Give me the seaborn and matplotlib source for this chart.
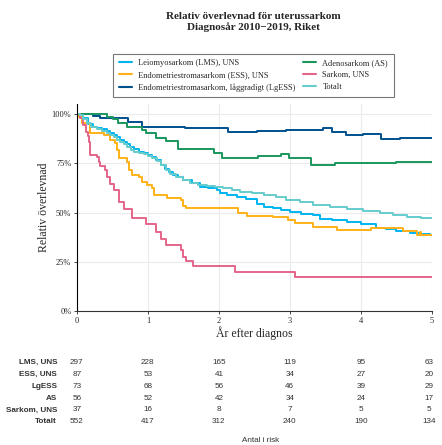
import numpy as np
import pandas as pd
import seaborn as sns
import matplotlib.pyplot as plt
from matplotlib.lines import Line2D

# survival curves (years after diagnosis, relative survival %)
lms_t = [0, 0.05, 0.09, 0.16, 0.22, 0.28, 0.35, 0.42, 0.47, 0.52, 0.57, 0.61, 0.66, 0.70, 0.75,
         0.80, 0.87, 0.94, 1.00, 1.06, 1.12, 1.18, 1.24, 1.30, 1.36, 1.43, 1.50, 1.62, 1.73,
         1.85, 1.97, 2.01, 2.12, 2.25, 2.38, 2.53, 2.64, 2.76, 2.88, 3.00, 3.16, 3.33, 3.42,
         3.60, 3.80, 4.00, 4.22, 4.35, 4.50, 4.69, 4.85, 4.97, 5.0]
lms_s = [100, 99.5, 97.8, 95.0, 93.6, 93.0, 92.2, 91.6, 90.4, 89.5, 88.2, 87.0, 85.6, 84.6, 83.0,
         82.0, 80.8, 80.2, 79.2, 78.4, 76.4, 74.2, 72.0, 70.6, 69.2, 67.8, 66.5, 64.8, 63.1,
         62.2, 61.4, 59.7, 58.8, 58.0, 56.8, 54.5, 53.0, 52.1, 51.2, 50.4, 49.5, 48.7, 46.6,
         46.0, 45.3, 44.0, 42.3, 41.5, 40.8, 39.8, 39.2, 38.6, 38.6]

ess_t = [0, 0.03, 0.07, 0.16, 0.19, 0.38, 0.47, 0.54, 0.56, 0.59, 0.71, 0.73, 0.78, 0.87, 0.92,
         0.99, 1.06, 1.08, 1.27, 1.46, 1.50, 1.53, 2.27, 2.39, 2.76, 2.98, 3.07, 3.33, 3.66,
         4.15, 4.60, 4.79, 4.83, 4.85, 5.0]
ess_s = [100, 98.6, 95.3, 95.3, 90.2, 89.3, 86.8, 85.1, 81.7, 77.5, 75.8, 71.5, 69.0, 68.1, 65.6,
         63.9, 62.2, 58.8, 57.6, 56.3, 53.2, 52.3, 49.6, 48.2, 47.6, 46.2, 44.9, 42.9, 41.2,
         42.0, 40.7, 38.7, 40.2, 38.7, 38.7]

lgess_t = [0, 0.23, 0.32, 0.72, 0.91, 1.52, 2.13, 2.53, 2.95, 3.46, 3.60, 3.79, 4.03, 4.29, 4.55, 5.0]
lgess_s = [100, 99.1, 97.8, 96.1, 93.4, 92.7, 91.0, 91.4, 91.9, 92.7, 90.7, 89.3, 89.6, 87.3, 87.8, 87.8]

as_t = [0, 0.42, 0.51, 0.58, 0.70, 0.91, 0.98, 1.12, 1.26, 1.42, 1.93, 2.04, 2.55, 2.88, 2.99,
        3.30, 3.63, 4.03, 4.50, 5.0]
as_s = [100, 98.6, 97.5, 95.3, 93.6, 91.9, 90.2, 87.7, 86.3, 82.0, 80.0, 77.5, 78.7, 79.7, 77.5,
        74.1, 74.9, 75.3, 75.8, 75.8]

sark_t = [0, 0.05, 0.09, 0.13, 0.15, 0.165, 0.18, 0.28, 0.31, 0.33, 0.40, 0.43, 0.47, 0.52, 0.59,
          0.67, 0.78, 0.97, 1.12, 1.18, 1.26, 1.46, 1.50, 1.54, 1.64, 2.23, 3.07, 5.0]
sark_s = [100, 97.8, 94.4, 91.0, 89.0, 86.0, 79.0, 78.0, 75.8, 73.6, 71.5, 68.0, 64.7, 61.4, 55.4,
          52.0, 47.0, 44.4, 40.2, 36.8, 33.4, 30.8, 27.5, 25.4, 22.7, 20.0, 17.4, 17.4]

tot_t = [0, 0.05, 0.09, 0.14, 0.20, 0.28, 0.35, 0.42, 0.47, 0.52, 0.57, 0.61, 0.66, 0.71, 0.76,
         0.80, 0.87, 0.94, 1.00, 1.06, 1.13, 1.19, 1.25, 1.31, 1.40, 1.50, 1.59, 1.71, 1.83,
         1.95, 2.06, 2.18, 2.30, 2.46, 2.63, 2.80, 2.95, 3.14, 3.33, 3.56, 3.80, 4.03, 4.27,
         4.45, 4.65, 4.85, 5.0]
tot_s = [100, 99.3, 97.5, 95.6, 93.6, 92.5, 91.5, 90.6, 89.4, 88.2, 87.0, 85.8, 84.6, 83.2, 81.8,
         80.9, 80.0, 79.5, 78.8, 77.8, 76.2, 74.0, 71.8, 69.6, 68.0, 66.5, 64.8, 64.1, 63.5,
         62.9, 62.3, 61.6, 60.6, 59.7, 58.8, 57.7, 56.6, 55.1, 53.7, 52.6, 51.6, 50.6, 49.6,
         48.7, 47.9, 47.4, 47.0]

groups = ['Leiomyosarkom (LMS), UNS', 'Endometriestromasarkom (ESS), UNS',
          'Endometriestromasarkom, låggradigt (LgESS)', 'Adenosarkom (AS)',
          'Sarkom, UNS', 'Totalt']
colors = ['#00b4f0', '#ffb117', '#00508c', '#19975d', '#e5658a', '#66cccc']
curves = [(lms_t, lms_s), (ess_t, ess_s), (lgess_t, lgess_s), (as_t, as_s),
          (sark_t, sark_s), (tot_t, tot_s)]

# numbers at risk
risk_labels = ['LMS, UNS', 'ESS, UNS', 'LgESS', 'AS', 'Sarkom, UNS', 'Totalt']
risk_years = [0, 1, 2, 3, 4, 5]
risk_lms = [297, 228, 165, 119, 95, 63]
risk_ess = [87, 53, 41, 34, 27, 20]
risk_lgess = [73, 68, 56, 46, 39, 29]
risk_as = [56, 52, 42, 34, 24, 17]
risk_sark = [37, 16, 8, 7, 5, 5]
risk_tot = [552, 417, 312, 240, 190, 134]
risk_rows = [risk_lms, risk_ess, risk_lgess, risk_as, risk_sark, risk_tot]

frames = []
for g, (t, s) in zip(groups, curves):
    frames.append(pd.DataFrame({'year': t, 'surv': np.array(s) / 100, 'group': g}))
df = pd.concat(frames, ignore_index=True)

sns.set_style('white')
serif = ['Liberation Serif', 'DejaVu Serif']
plt.rcParams['font.family'] = serif

fig = plt.figure(figsize=(4.42, 4.45), dpi=100)
ax = fig.add_axes([0.174, 0.301, 0.803, 0.465])

for g, c in zip(groups, colors):
    sub = df[df['group'] == g]
    sns.lineplot(data=sub, x='year', y='surv', ax=ax, color=c, lw=1.4,
                 drawstyle='steps-post', estimator=None, sort=False, legend=False)

ax.set_xlim(0, 5)
ax.set_ylim(0, 1.05)
ax.set_xticks(risk_years)
ax.set_yticks([0, 0.25, 0.5, 0.75, 1.0])
ax.set_yticklabels(['0%', '25%', '50%', '75%', '100%'])
ax.grid(True, color='#ebebeb', lw=0.8)
for sp in ['top', 'right']:
    ax.spines[sp].set_visible(False)
ax.spines['left'].set_color('black')
ax.spines['bottom'].set_color('#333333')
ax.tick_params(axis='both', labelsize=6, length=2.5, width=0.6, pad=1.5,
               bottom=True, left=True)
ax.set_xlabel('År efter diagnos', fontsize=8.5, labelpad=1)
ax.set_ylabel('Relativ överlevnad', fontsize=8.5, labelpad=1)

fig.text(0.574, 0.972, 'Relativ överlevnad för uterussarkom\nDiagnosår 2010\u22122019, Riket',
         ha='center', va='top', fontsize=8, fontweight='bold', linespacing=1.15)

handles = [Line2D([], [], color=c, lw=1.5) for c in colors]
leg = fig.legend(handles, groups, ncol=2, loc='upper center', bbox_to_anchor=(0.574, 0.889),
                 fontsize=6.0, frameon=True, fancybox=False, edgecolor='#555555',
                 handlelength=1.5, handletextpad=0.8, columnspacing=0.9,
                 labelspacing=0.45, borderpad=0.7)
leg.get_frame().set_linewidth(0.8)

# risk table
tab = fig.add_axes([0.174, 0.039, 0.803, 0.159])
tab.set_xlim(0, 5)
tab.set_ylim(len(risk_labels) - 0.5, -0.5)
tab.axis('off')
sans = ['Liberation Sans', 'DejaVu Sans']
for i, (lab, row) in enumerate(zip(risk_labels, risk_rows)):
    tab.text(-0.28, i, lab, ha='right', va='center', fontsize=5.9, fontweight='bold',
             family=sans, color='#333333')
    for yr, n in zip(risk_years, row):
        tab.text(yr if yr < 5 else 4.96, i, str(n), ha='center', va='center',
                 fontsize=5.9, family=sans, color='#333333')
fig.text(0.59, 0.003, 'Antal i risk', ha='center', va='bottom', fontsize=5.9,
         family=sans, color='#333333')

plt.savefig('out.png', dpi=100)
